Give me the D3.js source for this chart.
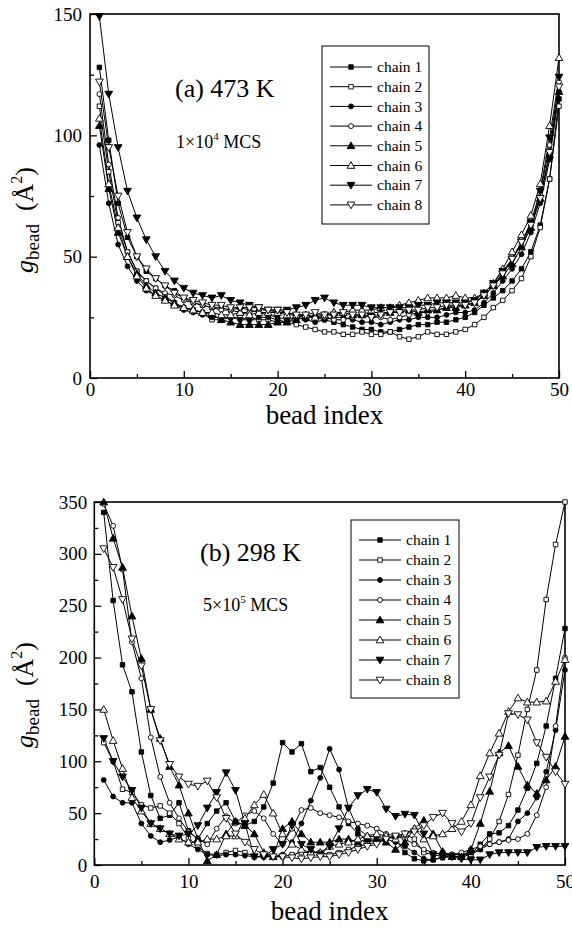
<!DOCTYPE html>
<html>
<head>
<meta charset="utf-8">
<script src="https://cdn.jsdelivr.net/npm/d3@7"></script>
<style>
  html, body { margin: 0; padding: 0; background: #fff; }
  svg { display: block; }
  text { font-family: "Liberation Serif", "Times New Roman", serif; fill: #000; }
</style>
</head>
<body>
<svg id="chart" width="572" height="934"></svg>
<script>
// ---------- DATA ----------
const beads = d3.range(1, 51);
const chainNames = ["chain 1","chain 2","chain 3","chain 4","chain 5","chain 6","chain 7","chain 8"];
const markerTypes = ["sqF","sqO","cirF","cirO","upF","upO","dnF","dnO"];
const xTicks = [0, 10, 20, 30, 40, 50];
const topYTicks = [0, 50, 100, 150];
const botYTicks = [0, 50, 100, 150, 200, 250, 300, 350];

// (a) 473 K
const topC1 = [128,98,72,58,50,44,41,38,36,33, 31,30,29,29,28,29,28,27,26,25, 24,25,26,25,24,23,22,21,20,20, 19,19,20,21,22,22,23,23,24,25, 27,30,33,36,40,45,52,63,82,115];
const topC2 = [112,85,64,52,44,40,37,34,31,29, 28,27,24,24,25,25,24,24,24,23, 23,22,21,20,19,19,18,18,19,18, 18,19,17,16,17,19,18,18,19,20, 22,25,29,32,36,41,50,62,82,112];
const topC3 = [96,72,55,46,40,36,34,32,30,28, 27,26,25,25,25,24,24,25,25,24, 23,25,24,23,24,25,25,24,23,23, 22,23,24,24,25,25,25,26,27,27, 28,31,35,40,45,51,60,72,90,118];
const topC4 = [117,88,66,52,44,40,37,35,34,32, 31,30,29,28,28,27,27,28,28,27, 27,26,25,25,25,24,24,25,26,25, 25,24,25,26,27,27,28,29,30,30, 31,34,38,43,49,55,63,76,96,122];
const topC5 = [104,78,60,50,43,38,35,33,31,29, 28,27,26,24,23,22,22,22,22,23, 23,24,25,26,26,27,27,26,26,27, 27,27,28,28,27,28,28,29,29,30, 31,34,38,42,47,54,62,74,92,118];
const topC6 = [107,80,62,50,42,37,34,32,30,29, 28,27,27,26,26,27,26,27,27,27, 26,26,26,25,26,27,27,28,28,28, 29,29,30,31,32,33,33,33,34,33, 33,35,39,45,52,59,67,80,104,132];
const topC7 = [149,117,95,77,66,57,50,44,40,37, 35,34,33,34,32,31,30,29,28,28, 28,29,30,32,33,31,30,30,30,29, 29,29,29,29,30,30,31,31,31,31, 32,35,39,44,49,56,64,77,99,124];
const topC8 = [122,95,75,60,50,45,41,38,35,33, 32,31,30,30,29,29,29,29,28,28, 27,26,26,27,26,26,27,26,26,25, 26,27,27,28,28,29,29,30,30,30, 31,34,38,43,49,56,63,74,93,120];

// (b) 298 K
const botC1 = [340,255,193,167,109,67,45,48,60,33, 25,40,52,60,42,38,42,56,79,118, 109,117,90,94,75,56,40,30,25,22, 28,25,12,6,4,5,7,8,8,10, 20,30,31,38,53,74,98,134,180,228];
const botC2 = [118,100,73,70,58,55,57,50,40,26, 18,11,10,12,14,12,8,8,8,8, 10,12,12,12,10,12,15,18,20,22, 26,28,30,25,12,10,12,10,10,10, 15,25,42,68,106,150,188,256,309,350];
const botC3 = [82,66,60,60,40,28,22,24,27,20, 15,10,9,10,10,9,8,8,8,10, 22,40,62,84,112,92,55,35,28,27, 25,22,18,12,6,5,8,10,10,12, 15,20,22,25,42,50,65,90,130,188];
const botC4 = [348,327,285,215,180,123,85,60,45,32, 25,20,35,47,40,48,52,45,30,20, 35,53,55,50,48,46,42,40,38,35, 30,28,25,20,15,12,10,10,12,15, 18,20,22,24,25,30,48,75,134,200];
const botC5 = [350,315,287,240,199,150,122,95,77,50, 25,4,10,30,42,38,30,12,8,35, 42,30,22,22,22,25,25,22,25,25, 22,15,22,35,43,30,13,8,8,15, 40,71,108,115,95,77,69,82,95,124];
const botC6 = [150,120,93,65,52,40,35,30,25,22, 22,25,25,28,28,45,58,68,50,30, 20,15,12,12,18,20,22,25,28,30, 28,25,30,35,25,28,30,35,42,58, 86,108,127,148,161,157,157,158,177,198];
const botC7 = [122,100,85,72,55,40,35,30,28,30, 38,55,70,89,72,40,8,8,15,20, 38,20,15,10,18,35,55,67,73,70, 54,47,49,48,30,10,8,8,6,5, 5,10,12,12,12,12,17,18,18,18];
const botC8 = [305,287,256,218,192,150,120,97,85,78, 76,81,65,45,30,22,15,10,8,8, 7,6,7,8,8,10,12,15,18,20, 25,28,30,32,38,46,50,40,32,40, 65,85,106,146,145,140,118,104,90,78];

const topSeries = [topC1, topC2, topC3, topC4, topC5, topC6, topC7, topC8];
const botSeries = [botC1, botC2, botC3, botC4, botC5, botC6, botC7, botC8];

// ---------- DRAWING ----------
const svg = d3.select("#chart");

function markerPath(type) {
  if (type.startsWith("sq")) return d3.symbol(d3.symbolSquare, 20)();
  if (type.startsWith("cir")) return d3.symbol(d3.symbolCircle, 19)();
  return d3.symbol(d3.symbolTriangle, 26)();
}
function drawMarker(g, type, x, y) {
  const filled = type.endsWith("F");
  const rot = type.startsWith("dn") ? " rotate(180)" : "";
  const dy = type.startsWith("up") ? 0.6 : (type.startsWith("dn") ? -0.6 : 0);
  g.append("path")
    .attr("d", markerPath(type))
    .attr("transform", `translate(${x},${y + dy})${rot}`)
    .attr("fill", filled ? "#000" : "#fff")
    .attr("stroke", "#000")
    .attr("stroke-width", 0.9);
}

function panel(cfg) {
  const x = d3.scaleLinear().domain([0, 50]).range([cfg.x0, cfg.x1]);
  const y = d3.scaleLinear().domain([0, cfg.ymax]).range([cfg.y0, cfg.y1]);
  const g = svg.append("g");

  // axes (inward ticks)
  const xAxis = d3.axisBottom(x).tickValues(xTicks).tickFormat(d3.format("d"))
    .tickSize(-7).tickPadding(cfg.xPad);
  g.append("g").attr("transform", `translate(0,${cfg.y0})`).call(xAxis);
  const xMinor = d3.axisBottom(x).tickValues([5,15,25,35,45]).tickSize(-4).tickFormat("");
  g.append("g").attr("transform", `translate(0,${cfg.y0})`).call(xMinor);

  const yAxis = d3.axisLeft(y).tickValues(cfg.yTicks).tickFormat(d3.format("d"))
    .tickSize(-7).tickPadding(cfg.yPad);
  g.append("g").attr("transform", `translate(${cfg.x0},0)`).call(yAxis);
  const yMinor = d3.axisLeft(y).tickValues(cfg.yTicks.slice(0, -1).map(v => v + cfg.yStep / 2))
    .tickSize(-4).tickFormat("");
  g.append("g").attr("transform", `translate(${cfg.x0},0)`).call(yMinor);

  g.selectAll(".domain").remove();
  g.selectAll(".tick line").attr("stroke", "#000").attr("stroke-width", 1.3);
  g.selectAll(".tick text")
    .style("font-family", '"Liberation Serif", serif')
    .style("font-size", "19px").attr("fill", "#000");

  // frame
  g.append("rect")
    .attr("x", cfg.x0).attr("y", cfg.y1)
    .attr("width", cfg.x1 - cfg.x0).attr("height", cfg.y0 - cfg.y1)
    .attr("fill", "none").attr("stroke", "#000").attr("stroke-width", 1.6);

  // series
  const line = d3.line().x((d, i) => x(beads[i])).y(d => y(d));
  const dataG = g.append("g");
  cfg.series.forEach((s) => {
    dataG.append("path").attr("d", line(s))
      .attr("fill", "none").attr("stroke", "#000").attr("stroke-width", 1);
  });
  cfg.series.forEach((s, k) => {
    s.forEach((v, i) => drawMarker(dataG, markerTypes[k], x(beads[i]), y(v)));
  });

  // legend
  const lg = g.append("g");
  lg.append("rect")
    .attr("x", cfg.leg.x).attr("y", cfg.leg.y)
    .attr("width", cfg.leg.w).attr("height", cfg.leg.h)
    .attr("fill", "#fff").attr("stroke", "#000").attr("stroke-width", 1);
  chainNames.forEach((name, k) => {
    const ry = cfg.leg.row0 + k * cfg.leg.dy;
    lg.append("line")
      .attr("x1", cfg.leg.lx0).attr("x2", cfg.leg.lx1)
      .attr("y1", ry).attr("y2", ry)
      .attr("stroke", "#000").attr("stroke-width", 1);
    drawMarker(lg, markerTypes[k], (cfg.leg.lx0 + cfg.leg.lx1) / 2, ry);
    lg.append("text").attr("x", cfg.leg.tx).attr("y", ry)
      .attr("dy", "0.33em").style("font-size", "15.5px").text(name);
  });

  // annotations
  g.append("text").attr("x", cfg.title.x).attr("y", cfg.title.y)
    .style("font-size", "26px").text(cfg.title.text);
  const mcs = g.append("text").attr("x", cfg.mcs.x).attr("y", cfg.mcs.y)
    .style("font-size", "18px");
  mcs.append("tspan").text(cfg.mcs.pre);
  mcs.append("tspan").attr("dy", -8).style("font-size", "11px").text(cfg.mcs.exp);
  mcs.append("tspan").attr("dy", 8).text(" MCS");

  // x label
  g.append("text").attr("x", (cfg.x0 + cfg.x1) / 2).attr("y", cfg.xlab.y)
    .attr("text-anchor", "middle").style("font-size", "27px").text("bead index");

  // y label
  const yl = g.append("text")
    .attr("transform", `translate(${cfg.ylab.x},${cfg.ylab.y}) rotate(-90)`)
    .attr("text-anchor", "middle").style("font-size", "26px");
  yl.append("tspan").style("font-style", "italic").text("g");
  yl.append("tspan").attr("dy", 6).style("font-size", "19px").text("bead");
  yl.append("tspan").attr("dy", -6).text("\u00A0\u00A0(\u00C5");
  yl.append("tspan").attr("dy", -11).style("font-size", "16px").text("2");
  yl.append("tspan").attr("dy", 11).text(")");
}

panel({
  x0: 90, x1: 559, y0: 378, y1: 14, ymax: 150, yTicks: topYTicks, yStep: 50,
  xPad: 5, yPad: 8, series: topSeries,
  leg: { x: 322, y: 46, w: 107, h: 178, row0: 67, dy: 19.7, lx0: 330, lx1: 372, tx: 377 },
  title: { x: 175, y: 97, text: "(a) 473 K" },
  mcs: { x: 176, y: 148, pre: "1\u00D710", exp: "4" },
  xlab: { y: 424 },
  ylab: { x: 33, y: 220 }
});

panel({
  x0: 94.3, x1: 565, y0: 865, y1: 502, ymax: 350, yTicks: botYTicks, yStep: 50,
  xPad: 10, yPad: 7, series: botSeries,
  leg: { x: 351, y: 520, w: 108, h: 178, row0: 540, dy: 20, lx0: 359, lx1: 401, tx: 406 },
  title: { x: 200, y: 561, text: "(b) 298 K" },
  mcs: { x: 203, y: 611, pre: "5\u00D710", exp: "5" },
  xlab: { y: 920 },
  ylab: { x: 33, y: 695 }
});
</script>
</body>
</html>
